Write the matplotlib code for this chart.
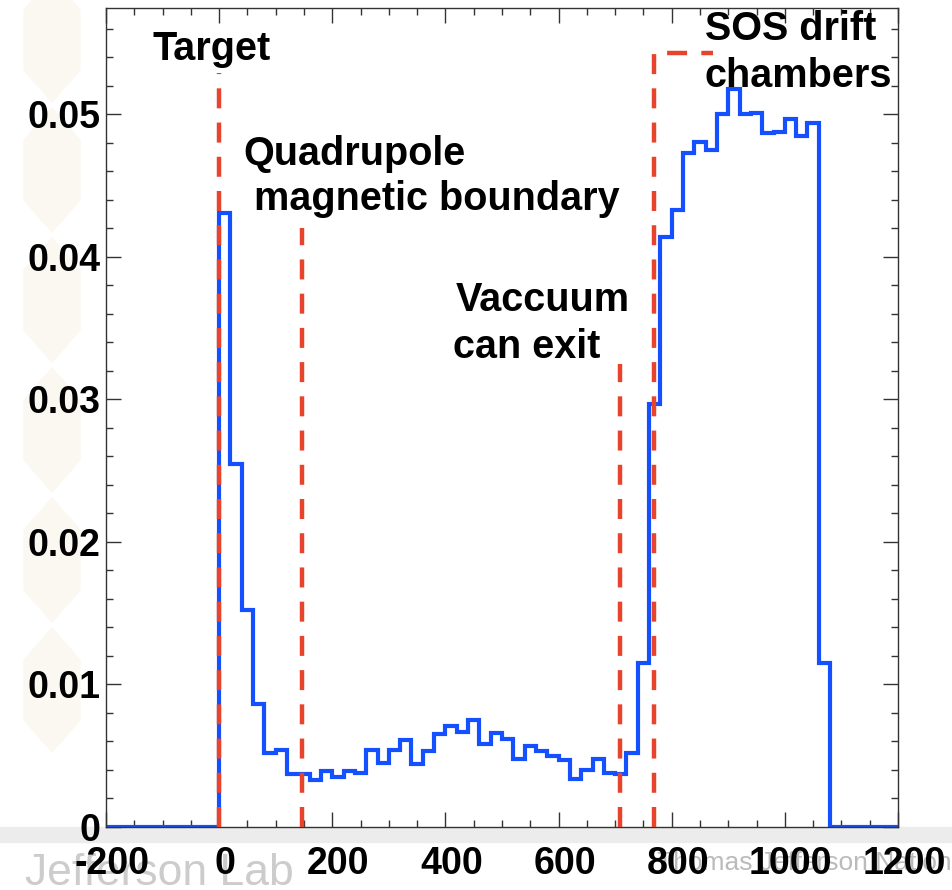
import numpy as np
import matplotlib
matplotlib.use("Agg")
import matplotlib.pyplot as plt
from matplotlib.patches import Rectangle, Polygon
from matplotlib.ticker import MultipleLocator, FuncFormatter
from matplotlib.transforms import ScaledTranslation

# histogram: 20-unit bins from 0 to 1080
bin_edges = np.arange(0, 1100, 20)
counts = [0.0431, 0.0255, 0.0152, 0.0086, 0.0052, 0.0054, 0.0037, 0.0037,
          0.0033, 0.0039, 0.0035, 0.0039, 0.0038, 0.0054, 0.0045, 0.0054,
          0.0061, 0.0044, 0.0053, 0.0065, 0.0071, 0.0067, 0.0075, 0.0058,
          0.0066, 0.0062, 0.0048, 0.0057, 0.0053, 0.0050, 0.0047, 0.0034,
          0.0040, 0.0048, 0.0038, 0.0037, 0.0052, 0.0115, 0.0297, 0.0414,
          0.0433, 0.0473, 0.0481, 0.0475, 0.0500, 0.0518, 0.0500, 0.0501,
          0.0487, 0.0488, 0.0497, 0.0485, 0.0494, 0.0115]

# boundary markers (x, top of line)
marker_x = [0, 147, 708]
marker_top = [0.0529, 0.0420, 0.0325]
# SOS bracket
sos_x = [768, 768, 873]
sos_y = [0, 0.0543, 0.0543]

xticks = [-200, 0, 200, 400, 600, 800, 1000, 1200]
yticks = [0, 0.01, 0.02, 0.03, 0.04, 0.05]

plt.rcParams['font.family'] = ['Liberation Sans', 'DejaVu Sans']
plt.rcParams['axes.unicode_minus'] = False

fig = plt.figure(figsize=(9.53, 8.90), dpi=100)
W, H = 953.0, 890.0

# faint slide background
fig.patches.append(Rectangle((0, (H - 842) / H), 1, 15 / H, transform=fig.transFigure,
                             color='#ececec', zorder=0))
for cy in [40, 170, 300, 430, 560, 690]:
    pts = [(52, cy - 62), (80, cy - 30), (80, cy + 30), (52, cy + 62),
           (24, cy + 30), (24, cy - 30)]
    pts = [(px / W, (H - py) / H) for px, py in pts]
    fig.patches.append(Polygon(pts, closed=True, transform=fig.transFigure,
                               color='#faf8f1', zorder=0))
fig.text(25 / W, 5 / H, 'Jefferson Lab', fontsize=32, color='#cccccc', zorder=0.5)
fig.text(657 / W, (H - 870) / H, 'Thomas Jefferson National Accelerator Facility',
         fontsize=19, color='#bbbbbb', zorder=0.5)

ax = fig.add_axes([106 / W, 63 / H, 792 / W, 819 / H])
ax.set_zorder(1)

# zero extension on both sides of the filled range
edges = np.concatenate([[-200], bin_edges, [1200]])
vals = np.concatenate([[0], counts, [0]])
ax.stairs(vals, edges, color='#1450ff', lw=3.0, baseline=None, zorder=2)

red = '#e8432c'
for x, top in zip(marker_x, marker_top):
    ax.plot([x, x], [0, top], color=red, lw=3.2, dashes=(4.5, 3.2), zorder=3)
ax.plot(sos_x, sos_y, color=red, lw=3.2, dashes=(4.5, 3.2), zorder=3)

ax.set_xlim(-200, 1200)
ax.set_ylim(0, 0.05747)
ax.set_xticks(xticks)
ax.set_yticks(yticks)
ax.xaxis.set_minor_locator(MultipleLocator(50))
ax.yaxis.set_minor_locator(MultipleLocator(0.002))
ax.yaxis.set_major_formatter(FuncFormatter(lambda v, p: '0' if v == 0 else '%.2f' % v))
ax.tick_params(which='both', direction='in', top=True, right=True, color='#333333')
ax.tick_params(which='major', length=11, width=1)
ax.tick_params(which='minor', length=5, width=1)
ax.tick_params(axis='x', which='major', labelsize=27, pad=14)
ax.tick_params(axis='y', which='major', labelsize=27, pad=4)
for lab in ax.get_xticklabels() + ax.get_yticklabels():
    lab.set_fontweight('bold')
for lab in ax.get_xticklabels():
    lab.set_transform(lab.get_transform() + ScaledTranslation(6 / 100, 0, fig.dpi_scale_trans))
for s in ax.spines.values():
    s.set_color('#333333')
    s.set_linewidth(1)

tkw = dict(fontsize=28.5, fontweight='bold', va='baseline', ha='left', zorder=4)
ax.text(-118, 0.0538, 'Target', **tkw)
ax.text(43, 0.04645, 'Quadrupole', **tkw)
ax.text(61, 0.04328, 'magnetic boundary', **tkw)
ax.text(418, 0.03623, 'Vaccuum', **tkw)
ax.text(414, 0.03292, 'can exit', **tkw)
ax.text(859, 0.05524, 'SOS drift', **tkw)
ax.text(858, 0.05195, 'chambers', **tkw)

fig.savefig('out.png', dpi=100)
